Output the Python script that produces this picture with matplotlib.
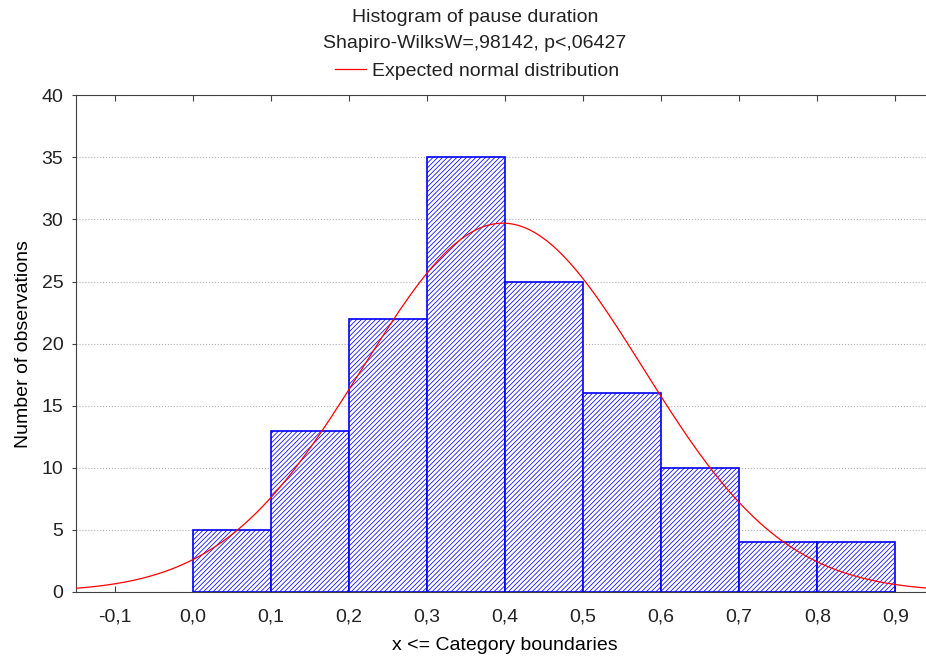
import numpy as np
import matplotlib.pyplot as plt

# histogram of pause duration
bin_edges = [0.0, 0.1, 0.2, 0.3, 0.4, 0.5, 0.6, 0.7, 0.8, 0.9]
counts = [5, 13, 22, 35, 25, 16, 10, 4, 4]

# expected normal fit (parameters)
curve_mean = 0.397
curve_sd = 0.18

x_ticks = [-0.1, 0.0, 0.1, 0.2, 0.3, 0.4, 0.5, 0.6, 0.7, 0.8, 0.9]
x_labels = ['-0,1', '0,0', '0,1', '0,2', '0,3', '0,4', '0,5', '0,6', '0,7', '0,8', '0,9']
y_ticks = [0, 5, 10, 15, 20, 25, 30, 35, 40]

plt.rcParams['font.family'] = ['Liberation Sans', 'DejaVu Sans']
plt.rcParams['hatch.linewidth'] = 0.55
plt.rcParams['hatch.color'] = 'blue'
plt.rcParams['text.color'] = '#222222'

fig = plt.figure(figsize=(9.26, 6.57), dpi=100)
ax = fig.add_axes([0.082, 0.099, 0.927, 0.756])

lefts = bin_edges[:-1]
widths = np.diff(bin_edges)
ax.bar(lefts, counts, width=widths, align='edge', facecolor='white',
       edgecolor='blue', hatch='///////', linewidth=1.2, zorder=2)

n_total = sum(counts)
xs = np.linspace(-0.15, 0.95, 300)
ys = n_total * 0.1 / (curve_sd * np.sqrt(2 * np.pi)) * np.exp(-(xs - curve_mean) ** 2 / (2 * curve_sd ** 2))
ax.plot(xs, ys, color='red', linewidth=0.9, zorder=3, label='Expected normal distribution')

ax.set_xlim(-0.15, 0.95)
ax.set_ylim(0, 40)
ax.set_xticks(x_ticks)
ax.set_xticklabels(x_labels)
ax.set_yticks(y_ticks)
ax.tick_params(axis='x', direction='in', top=True, length=4, pad=12, labelsize=14,
               color='#404040', labelcolor='#222222')
ax.tick_params(axis='y', direction='out', length=3, pad=6, labelsize=14,
               color='#404040', labelcolor='#222222')
ax.yaxis.grid(True, linestyle=':', color='#b0b0b0', linewidth=0.8, zorder=0)
ax.set_axisbelow(True)
for s in ax.spines.values():
    s.set_color('#404040')

ax.set_xlabel('x <= Category boundaries', fontsize=14, labelpad=8)
ax.set_ylabel('Number of observations', fontsize=14, labelpad=7)

fig.text(0.513, 1 - 17 / 657, 'Histogram of pause duration', ha='center', va='center', fontsize=14)
fig.text(0.513, 1 - 44 / 657, 'Shapiro-WilksW=,98142, p<,06427', ha='center', va='center', fontsize=14)
fig.legend(loc='center', bbox_to_anchor=(0.515, 1 - 71 / 657), frameon=False,
           fontsize=14, handlelength=1.6, handletextpad=0.3, borderpad=0)

plt.savefig('out.png', dpi=100)
